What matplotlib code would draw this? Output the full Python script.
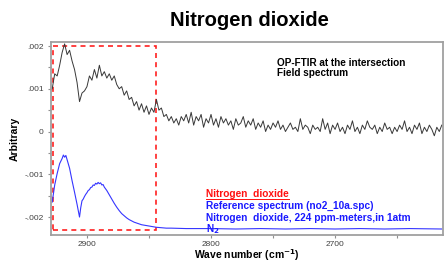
import numpy as np
import matplotlib.pyplot as plt
from matplotlib.patches import Rectangle
from matplotlib.lines import Line2D

plt.rcParams['font.family'] = ['Liberation Sans', 'DejaVu Sans']

# field spectrum (x 1e-3), every 2 cm-1 from 2928 down to 2614
wn_field = np.arange(2928, 2613, -2)
field = [1.00, 1.35, 1.30, 1.55, 1.85, 2.05, 1.80, 1.90, 1.65, 1.45,
         1.15, 0.70, 0.90, 0.95, 1.05, 1.30, 1.20, 1.45, 1.25, 1.55,
         1.30, 1.40, 1.25, 1.35, 1.20, 1.30, 1.10, 1.00, 1.05, 0.85,
         0.95, 0.75, 0.80, 0.60, 0.70, 0.50, 0.65, 0.45, 0.60, 0.40,
         0.55, 0.45, 0.75, 0.50, 0.55, 0.35, 0.40, 0.25, 0.35, 0.20,
         0.30, 0.15, 0.35, 0.25, 0.40, 0.20, 0.45, 0.15, 0.35, 0.25,
         0.40, 0.10, 0.30, 0.20, 0.40, 0.15, 0.30, 0.10, 0.35, 0.20,
         0.30, 0.15, 0.25, 0.05, 0.30, 0.15, 0.20, 0.35, 0.10, 0.25,
         0.15, 0.30, 0.05, 0.20, 0.10, 0.25, 0.00, 0.15, 0.05, 0.20,
         0.10, 0.25, 0.05, 0.15, 0.00, 0.10, 0.20, 0.05, 0.10, 0.00,
         0.30, 0.05, 0.15, 0.10, -0.05, 0.15, 0.05, 0.10, 0.00, 0.30,
         0.05, 0.20, -0.05, 0.15, 0.05, 0.20, 0.00, 0.10, -0.05, 0.15,
         0.05, 0.25, 0.00, 0.10, -0.05, 0.15, 0.05, 0.25, 0.10, 0.05,
         0.15, -0.05, 0.10, 0.00, 0.20, 0.05, 0.10, -0.05, 0.10, 0.00,
         0.15, 0.05, 0.25, 0.00, 0.10, -0.05, 0.15, 0.05, 0.20, -0.05,
         0.10, 0.00, 0.15, 0.05, -0.10, 0.10, 0.00, 0.15]

# reference spectrum no2_10a.spc (x 1e-3)
wn_ref = [2928, 2926, 2924, 2922, 2920, 2919, 2918, 2917, 2916, 2914,
          2912, 2910, 2908, 2906, 2905, 2904, 2903, 2902, 2901, 2900,
          2899, 2898, 2897, 2896, 2895, 2894, 2893, 2892, 2891, 2890,
          2889, 2888, 2887, 2886, 2884, 2882, 2880, 2878, 2876, 2874,
          2872, 2870, 2868, 2866, 2864, 2862, 2860, 2858, 2856, 2854,
          2852, 2850, 2848, 2846, 2844, 2840, 2836, 2832, 2820, 2800,
          2780, 2760, 2740, 2720, 2700, 2680, 2660, 2640, 2614]
ref = [-1.65, -1.25, -0.98, -0.75, -0.63, -0.55, -0.60, -0.56, -0.66, -0.86,
       -1.15, -1.42, -1.70, -2.00, -1.78, -1.62, -1.58, -1.52, -1.47, -1.43,
       -1.38, -1.36, -1.31, -1.30, -1.25, -1.26, -1.21, -1.23, -1.19, -1.22,
       -1.20, -1.25, -1.24, -1.30, -1.38, -1.48, -1.58, -1.68, -1.77, -1.85,
       -1.92, -1.97, -2.02, -2.06, -2.09, -2.12, -2.14, -2.16, -2.18, -2.19,
       -2.20, -2.21, -2.22, -2.23, -2.24, -2.25, -2.26, -2.26, -2.27, -2.27,
       -2.28, -2.27, -2.28, -2.27, -2.28, -2.27, -2.28, -2.27, -2.28]

ytick_vals = [0.002, 0.001, 0, -0.001, -0.002]
ytick_labels = ['.002', '.001', '0', '-.001', '-.002']
xtick_vals = [2900, 2800, 2700]

fig = plt.figure(figsize=(4.46, 2.62), dpi=100)
ax = fig.add_axes([0.1143, 0.1031, 0.879, 0.7366])

ax.plot(wn_field, np.array(field) * 1e-3, color='#383838', lw=0.7)
ax.plot(wn_ref, np.array(ref) * 1e-3, color='#3535ff', lw=0.8)

# red dashed box round the NO2 band
ax.add_patch(Rectangle((2927, -0.0023), 2844 - 2927, 0.0043, fill=False,
                       ec='#ff2020', lw=1.2, ls=(0, (3, 2.5))))

ax.set_xlim(2929, 2613)
ax.set_ylim(-0.00242, 0.002094)

ax.set_yticks(ytick_vals)
ax.set_yticklabels(ytick_labels)
ax.set_yticks([0.0015, 0.0005, -0.0005, -0.0015], minor=True)
ax.set_xticks(xtick_vals)
ax.set_xticks([2850, 2750, 2650], minor=True)
ax.tick_params(which='both', direction='out', length=2.5, width=0.8,
               color='#909090', labelsize=6, labelcolor='#404040')
ax.tick_params(axis='y', pad=2.8)
ax.tick_params(axis='x', pad=1.5)
for s in ax.spines.values():
    s.set_color('#a0a0a0')
    s.set_linewidth(1.3)

ax.set_ylabel('Arbitrary', fontsize=7.5, fontweight='bold')
ax.yaxis.set_label_coords(-0.079, 0.5)
ax.set_xlabel('Wave number (cm$^{\\mathbf{-1}}$)', fontsize=7.5,
              fontweight='bold')
ax.xaxis.set_label_coords(0.5, -0.062)

fig.text(0.559, 0.923, 'Nitrogen dioxide', fontsize=14.5, fontweight='bold',
         ha='center', va='center')

ax.text(0.577, 0.891, 'OP-FTIR at the intersection', transform=ax.transAxes,
        fontsize=7.2, fontweight='bold', va='center')
ax.text(0.577, 0.839, 'Field spectrum', transform=ax.transAxes,
        fontsize=7.2, fontweight='bold', va='center')

red = ax.text(0.395, 0.212, 'Nitrogen  dioxide', transform=ax.transAxes,
              fontsize=7.3, fontweight='bold', color='#ff1010', va='center')
blue_lines = ['Reference spectrum (no2_10a.spc)',
              'Nitrogen  dioxide, 224 ppm-meters,in 1atm',
              'N$_\\mathbf{2}$']
for ypos, s in zip([0.150, 0.088, 0.031], blue_lines):
    ax.text(0.395, ypos, s, transform=ax.transAxes, fontsize=7.3,
            fontweight='bold', color='#1a1aff', va='center', clip_on=True)

fig.canvas.draw()
bb = red.get_window_extent().transformed(fig.transFigure.inverted())
fig.add_artist(Line2D([bb.x0, bb.x1], [bb.y0 + 0.002, bb.y0 + 0.002],
                      transform=fig.transFigure, color='#ff1010', lw=0.7))

fig.savefig('out.png', dpi=100)
